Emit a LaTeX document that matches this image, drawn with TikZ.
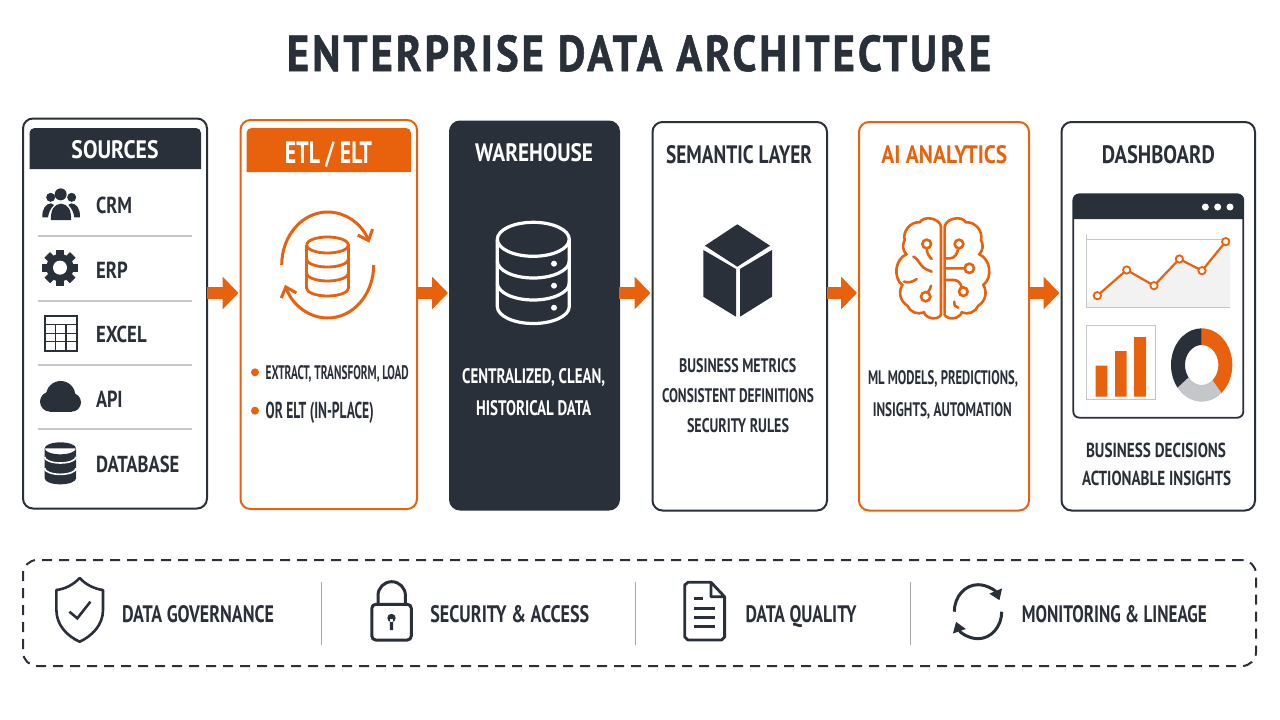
\documentclass[tikz,border=0pt]{standalone}
\usepackage{graphicx}
\usepackage{fontspec}
\setmainfont{PT Sans}
\usetikzlibrary{arrows.meta,calc}
\definecolor{ink}{HTML}{2A3039}
\definecolor{accent}{HTML}{E8620E}
\definecolor{rulegray}{HTML}{C4C6C9}
\tikzset{
  x=1pt,y=-1pt,
  txt/.style={inner sep=0pt,outer sep=0pt,font=\bfseries,text=ink},
  panelbox/.style={draw=ink,line width=2pt,fill=white,rounded corners=10pt,inner sep=0pt,outer sep=0pt,anchor=north west},
  accentbox/.style={panelbox,draw=accent},
  darkbox/.style={panelbox,draw=ink,fill=ink},
  flow/.style={draw=accent,line width=12pt,shorten >=2pt,-{Triangle[length=16pt,width=32pt]}},
  sep/.style={draw=rulegray,line width=1.2pt},
  divider/.style={draw=gray!70,line width=1.4pt},
  zoomed/.style={x=0.33333pt,y=-0.33333pt},
}
\newcommand\lab[6][]{\node[txt,#1] (#2) at (#3) {\resizebox{#4pt}{#5pt}{\raisebox{0pt}[\height][0pt]{#6}}};}
\begin{document}
\begin{tikzpicture}
\useasboundingbox[fill=white] (0,0) rectangle (1280,720);
\lab{title}{639,53}{704}{36}{\addfontfeature{LetterSpace=7,FakeBold=1.2}ENTERPRISE DATA ARCHITECTURE}
\coordinate (flowy) at (0,293);

% panels
\node[panelbox,minimum width=184pt,minimum height=390pt] (src) at (23,118.5) {};
\node[accentbox,minimum width=176.5pt,minimum height=389pt] (etl) at (240.5,120) {};
\node[darkbox,minimum width=169pt,minimum height=388pt] (wh) at (450,121.5) {};
\node[panelbox,minimum width=174.5pt,minimum height=388.5pt] (sem) at (652.5,122) {};
\node[accentbox,minimum width=170pt,minimum height=388.5pt] (ai) at (859,122) {};
\node[panelbox,minimum width=193.5pt,minimum height=388.5pt] (dash) at (1061.5,122) {};

% flow arrows
\draw[flow] (src.east |- flowy) -- (etl.west |- flowy);
\draw[flow] (etl.east |- flowy) -- (wh.west |- flowy);
\draw[flow] (wh.east |- flowy) -- (sem.west |- flowy);
\draw[flow] (sem.east |- flowy) -- (ai.west |- flowy);
\draw[flow] (ai.east |- flowy) -- (dash.west |- flowy);

% SOURCES
\fill[ink] (29.5,169) [rounded corners=5pt] -- (29.5,128) -- (201,128) [sharp corners] -- (201,169) -- cycle;
\lab[text=white]{srchead}{115,149}{87}{18}{SOURCES}
\draw[sep] (38,236) -- (192,236) (38,301) -- (192,301) (38,365) -- (192,365) (38,429) -- (192,429);
\lab[anchor=west]{crm}{96,205}{36}{16.5}{CRM}
\lab[anchor=west]{erp}{96,270}{31.7}{16.5}{ERP}
\lab[anchor=west]{excel}{96,334.3}{50.7}{16.5}{EXCEL}
\lab[anchor=west]{api}{96,399.3}{26.7}{16.5}{API}
\lab[anchor=west]{dbase}{96,464}{83.3}{16.5}{DATABASE}
\begin{scope}[shift={(20,115)},zoomed]
  % people
  \fill[ink] (122,238) circle[radius=18] (92,247) circle[radius=13.5] (155,247) circle[radius=13.5];
  \fill[ink] (67,307) .. controls (66,280) and (78,266) .. (93,265) .. controls (97,265) and (100,267) .. (102,270) .. controls (92,280) and (86,292) .. (84,307) -- cycle;
  \fill[ink] (180,307) .. controls (181,280) and (169,266) .. (154,265) .. controls (150,265) and (147,267) .. (145,270) .. controls (155,280) and (161,292) .. (163,307) -- cycle;
  \fill[ink] (93,315) .. controls (91,285) and (103,267) .. (123,266) .. controls (143,267) and (155,285) .. (153,315) -- cycle;
  % gear
  \fill[ink] (120,458) circle[radius=41];
  \foreach \a in {0,45,...,315}{
    \fill[ink,rotate around={\a:(120,458)}] (108,404) rectangle (132,430);
  }
  \fill[white] (120,458) circle[radius=21];
  % grid
  \draw[ink,line width=2pt] (75,602) rectangle (170,707);
  \draw[ink,line width=1.5pt] (75,628) -- (170,628) (75,655) -- (170,655) (75,680) -- (170,680) (107,628) -- (107,707) (138,628) -- (138,707);
  % cloud
  \fill[ink] (122,842) circle[radius=44] (90,860) circle[radius=30] (155,862) circle[radius=28];
  \fill[ink] (90,860) rectangle (155,890);
  % database
  \fill[ink] (74,1000) -- (74,1090) arc[start angle=180,end angle=0,x radius=47,y radius=18] -- (168,1000) arc[start angle=0,end angle=360,x radius=47,y radius=18] -- cycle;
  \draw[white,line width=1.6pt] (74,1026) arc[start angle=180,end angle=0,x radius=47,y radius=18];
  \draw[white,line width=1.6pt] (74,1060) arc[start angle=180,end angle=0,x radius=47,y radius=18];
\end{scope}

% ETL
\fill[accent] (246.5,172) [rounded corners=5pt] -- (246.5,128) -- (411,128) [sharp corners] -- (411,172) -- cycle;
\lab[text=white]{etlhead}{328.5,152}{87}{22}{ETL / ELT}
\draw[accent,line width=3pt,-{Straight Barb[length=9pt,width=16pt]}] (281.7,265) arc[start angle=180,end angle=335,x radius=46,y radius=53];
\draw[accent,line width=3pt,-{Straight Barb[length=9pt,width=16pt]}] (373.7,265) arc[start angle=0,end angle=158,x radius=46,y radius=53];
\begin{scope}[accent,line width=2.8pt]
  \draw (306.5,245) arc[start angle=180,end angle=540,x radius=21,y radius=8];
  \draw (306.5,245) -- (306.5,288) arc[start angle=180,end angle=0,x radius=21,y radius=8] -- (348.5,245);
  \draw (306.5,259) arc[start angle=180,end angle=0,x radius=21,y radius=8];
  \draw (306.5,273) arc[start angle=180,end angle=0,x radius=21,y radius=8];
\end{scope}
\fill[accent] (255,372.3) circle[radius=4] (255,410.7) circle[radius=4];
\lab[anchor=west]{etlone}{265.7,372}{143}{14}{EXTRACT, TRANSFORM, LOAD}
\lab[anchor=west]{etltwo}{265.7,410.5}{108}{16.5}{OR ELT (IN-PLACE)}

% WAREHOUSE
\lab[text=white]{whhead}{534,152}{118}{18}{WAREHOUSE}
\begin{scope}[white,line width=3.2pt]
  \draw (497.3,239.3) arc[start angle=180,end angle=540,x radius=36,y radius=17];
  \draw (497.3,239.3) -- (497.3,306.5) arc[start angle=180,end angle=0,x radius=36,y radius=17] -- (569.3,239.3);
  \draw (497.3,261) arc[start angle=180,end angle=0,x radius=36,y radius=17];
  \draw (497.3,283) arc[start angle=180,end angle=0,x radius=36,y radius=17];
  \fill (554,263.7) circle[radius=3] (554,285.7) circle[radius=3] (554,307.7) circle[radius=3];
\end{scope}
\lab[text=white]{whone}{533.7,376}{143}{15}{CENTRALIZED, CLEAN,}
\lab[text=white]{whtwo}{533.7,408}{115}{15}{HISTORICAL DATA}

% SEMANTIC
\lab{semhead}{739,154}{146}{18}{SEMANTIC LAYER}
\fill[ink] (737.3,224.3) -- (770,245.7) -- (737.3,266.7) -- (705,245.7) -- cycle;
\fill[ink] (703.3,250) -- (736,269) -- (736,316.7) -- (703.3,296.7) -- cycle;
\fill[ink] (772,250) -- (740,269) -- (740,316.7) -- (772,296.7) -- cycle;
\lab{semone}{737.7,365}{117}{14}{BUSINESS METRICS}
\lab{semtwo}{738,395}{152}{14}{CONSISTENT DEFINITIONS}
\lab{semthree}{738,425.7}{102}{14}{SECURITY RULES}

% AI
\lab[text=accent]{aihead}{944.3,154}{126}{18}{AI ANALYTICS}
\begin{scope}[shift={(650,115)},zoomed,accent,line width=2.6pt,line cap=round]
  \draw (884,600) -- (884,335) to[bend left=70] (948,322) to[bend left=55] (993,375) to[bend left=35] (988,418) to[bend left=60] (1000,510) to[bend left=45] (985,572) to[bend left=45] (935,592) to[bend left=65] (884,600);
  \draw (873,600) -- (873,335) to[bend right=70] (809,322) to[bend right=55] (764,375) to[bend right=35] (769,418) to[bend right=60] (757,510) to[bend right=45] (772,572) to[bend right=45] (822,592) to[bend right=65] (873,600);
  \draw (884,460) -- (944,460) (958,460) circle[radius=14];
  \draw (884,430) -- (900,430) .. controls (915,430) and (922,415) .. (925,400) (927,387) circle[radius=13];
  \draw (884,495) -- (910,495) .. controls (925,495) and (932,505) .. (935,517) (940,530) circle[radius=13];
  \draw (913,560) .. controls (912,570) and (916,577) .. (925,578);
  \draw (830,387) circle[radius=13];
  \draw (830,400) .. controls (830,415) and (838,425) .. (845,432);
  \draw (790,425) .. controls (800,428) and (805,440) .. (815,452) .. controls (822,462) and (835,465) .. (845,470);
  \draw (762,500) .. controls (775,505) and (790,500) .. (800,492);
  \draw (827,545) circle[radius=14];
  \draw (833,532) .. controls (838,525) and (842,520) .. (843,512);
\end{scope}
\lab{aione}{943,377}{150}{14}{ML MODELS, PREDICTIONS,}
\lab{aitwo}{942.3,409}{139}{14}{INSIGHTS, AUTOMATION}

% DASHBOARD
\lab{dashhead}{1158.3,154}{113}{18}{DASHBOARD}
\begin{scope}[shift={(1050,115)},zoomed]
  \draw[ink,line width=1.8pt,fill=white,rounded corners=6pt] (70,238) rectangle (580,908);
  \fill[ink] (70,312) [rounded corners=6pt] -- (70,238) -- (580,238) [sharp corners] -- (580,312) -- cycle;
  \fill[white] (466,276) circle[radius=10.5] (503,276) circle[radius=10.5] (540,276) circle[radius=10.5];
  \fill[black!5] (110,578) -- (110,560) -- (142,542) -- (230,465) -- (312,512) -- (388,432) -- (456,467) -- (527,380) -- (540,372) -- (540,578) -- cycle;
  \draw[rulegray,line width=1pt] (110,358) -- (110,578) -- (540,578) (110,372) -- (540,372);
  \draw[accent,line width=2.2pt] (142,542) -- (230,465) -- (312,512) -- (388,432) -- (456,467) -- (527,380);
  \foreach \p in {(142,542),(230,465),(312,512),(388,432),(456,467),(527,380)}{
    \draw[accent,line width=1.8pt,fill=white] \p circle[radius=11];
  }
  \draw[rulegray,line width=1pt] (110,630) rectangle (317,853);
  \fill[accent] (137,752) rectangle (172,845) (195,708) rectangle (230,845) (252,666) rectangle (288,845);
  \coordinate (donut) at (455,750);
  \fill[accent] ([shift={(-90:92 and 110)}]donut) arc[start angle=-90,end angle=50,x radius=92,y radius=110] -- ([shift={(50:50 and 60)}]donut) arc[start angle=50,end angle=-90,x radius=50,y radius=60] -- cycle;
  \fill[rulegray] ([shift={(50:92 and 110)}]donut) arc[start angle=50,end angle=142,x radius=92,y radius=110] -- ([shift={(142:50 and 60)}]donut) arc[start angle=142,end angle=50,x radius=50,y radius=60] -- cycle;
  \fill[ink] ([shift={(142:92 and 110)}]donut) arc[start angle=142,end angle=270,x radius=92,y radius=110] -- ([shift={(270:50 and 60)}]donut) arc[start angle=270,end angle=142,x radius=50,y radius=60] -- cycle;
\end{scope}
\lab{dashone}{1156,450.7}{140}{14.5}{BUSINESS DECISIONS}
\lab{dashtwo}{1156.7,478.5}{149}{14.5}{ACTIONABLE INSIGHTS}

% BOTTOM BAND
\node[draw=ink,line width=2pt,dash pattern=on 10pt off 7pt,rounded corners=14pt,inner sep=0pt,outer sep=0pt,anchor=north west,minimum width=1233pt,minimum height=106pt] (gov) at (23,560) {};
\draw[divider] (321.6,581.7) -- (321.6,644.7) (635.4,581.7) -- (635.4,644.7) (910.4,581.7) -- (910.4,644.7);
% shield
\draw[ink,line width=2.6pt,line join=round] (79.7,578) .. controls (86,585) and (95,589) .. (103,590) -- (103,610) .. controls (103,625) and (92,636) .. (79.7,641.7) .. controls (67,636) and (56.4,625) .. (56.4,610) -- (56.4,590) .. controls (65,589) and (73,585) .. (79.7,578) -- cycle;
\draw[ink,line width=2.6pt] (69.4,611.7) -- (77.3,618.3) -- (90.4,601.7);
\lab[anchor=west]{govone}{122,613.5}{152}{17}{DATA GOVERNANCE}
% lock
\draw[ink,line width=3pt,rounded corners=4pt] (371.8,604.3) rectangle (411.3,640);
\draw[ink,line width=3pt] (378,604.3) -- (378,595.4) arc[start angle=180,end angle=360,x radius=13.7,y radius=13.7] -- (405.4,604.3);
\fill[ink] (391.5,618) circle[radius=4.2] (389.8,619) rectangle (393.2,630);
\lab[anchor=west]{govtwo}{430.3,613.5}{159}{17}{SECURITY \& ACCESS}
% document
\draw[ink,line width=2.8pt,line join=round] (711,582.3) -- (688,582.3) -- (684.7,585) -- (684.7,637) -- (688,640) -- (721.6,640) -- (724.6,637) -- (724.6,596.7) -- (711,582.3) -- (711,596.7) -- (724.6,596.7);
\draw[ink,line width=2.6pt] (694,598.7) -- (703,598.7) (694,608.3) -- (715,608.3) (694,617.7) -- (715,617.7) (694,626.7) -- (715,626.7);
\lab[anchor=west]{govthree}{745.5,613.5}{111}{17}{DATA QUALITY}
% cycle
\draw[ink,line width=3pt,-{Triangle[length=10pt,width=13pt]}] (954.3,611.7) arc[start angle=180,end angle=335,x radius=23.7,y radius=27];
\draw[ink,line width=3pt,-{Triangle[length=10pt,width=13pt]}] (1001.7,611.7) arc[start angle=0,end angle=158,x radius=23.7,y radius=27];
\lab[anchor=west]{govfour}{1021.8,613.5}{185}{17}{MONITORING \& LINEAGE}
\end{tikzpicture}
\end{document}
